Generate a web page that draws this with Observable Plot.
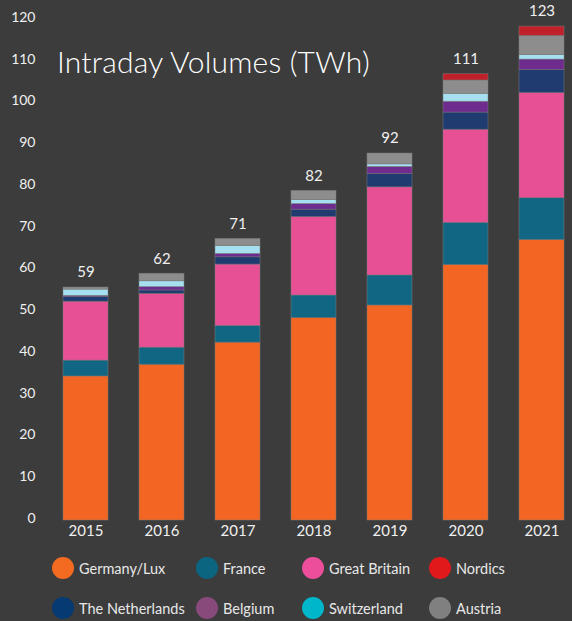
<!DOCTYPE html>
<html>
<head>
<meta charset="utf-8">
<script src="https://cdn.jsdelivr.net/npm/d3@7"></script>
<script src="https://cdn.jsdelivr.net/npm/@observablehq/plot@0.6"></script>
<style>
  html, body { margin: 0; padding: 0; background: #3c3c3c; }
  #wrap { position: relative; width: 572px; height: 621px; background: #3c3c3c; overflow: hidden; font-family: Lato, "Noto Sans", sans-serif; }
  #title { position: absolute; left: 57px; top: 43px; font-size: 30px; font-weight: 300; line-height: 36px; color: #ffffff; font-family: Lato, "Noto Sans", sans-serif; letter-spacing: 0.2px; }
  #legend { position: absolute; left: 0; top: 548px; width: 572px; height: 73px; }
  .li { position: absolute; display: flex; align-items: center; color: #e8e8e8; font-size: 14.5px; }
  .dot { width: 22px; height: 22px; border-radius: 50%; margin-right: 5px; }
</style>
</head>
<body>
<div id="wrap">
  <div id="chart"></div>
  <div id="title">Intraday Volumes (TWh)</div>
  <div id="legend"></div>
</div>
<script>
const years = ["2015", "2016", "2017", "2018", "2019", "2020", "2021"];
const germanyLux    = [34.5, 37.3, 42.6, 48.5, 51.5, 61.2, 67.2];
const france        = [3.8, 4.1, 4.0, 5.4, 7.2, 10.1, 10.0];
const greatBritain  = [14.1, 12.9, 14.7, 18.8, 21.1, 22.3, 25.2];
const netherlands   = [1.1, 0.8, 1.75, 1.75, 3.2, 4.1, 5.5];
const belgium       = [0.3, 0.8, 0.8, 1.35, 1.7, 2.6, 2.5];
const switzerland   = [1.5, 1.4, 1.9, 0.95, 0.6, 1.9, 1.1];
const austria       = [0.5, 1.8, 1.7, 2.2, 2.6, 3.2, 4.6];
const nordics       = [0, 0, 0, 0, 0, 1.5, 2.2];
const totals        = [59, 62, 71, 82, 92, 111, 123];
const yTicks        = [0, 10, 20, 30, 40, 50, 60, 70, 80, 90, 100, 110, 120];

// stacking order (bottom to top)
const stackNames  = ["Germany/Lux", "France", "Great Britain", "The Netherlands", "Belgium", "Switzerland", "Austria", "Nordics"];
const stackValues = [germanyLux, france, greatBritain, netherlands, belgium, switzerland, austria, nordics];
const barColors   = ["#f26522", "#116783", "#e85096", "#1f3b70", "#6f2c8f", "#a6dff0", "#8d8d8d", "#c1202a"];

// legend order
const legendNames  = ["Germany/Lux", "France", "Great Britain", "Nordics", "The Netherlands", "Belgium", "Switzerland", "Austria"];
const legendColors = ["#f26b21", "#0b6480", "#ec4e9c", "#e2191b", "#063a73", "#884a7a", "#00b6cb", "#808080"];

const rows = [];
stackNames.forEach((name, i) => {
  years.forEach((yr, j) => rows.push({year: yr, country: name, value: stackValues[i][j]}));
});
const sums = years.map((yr, j) => d3.sum(stackValues, s => s[j]));
const totalRows = years.map((yr, j) => ({year: yr, top: sums[j], label: String(totals[j])}));

const chart = Plot.plot({
  width: 572,
  height: 548,
  marginLeft: 57,
  marginRight: 2,
  marginTop: 19,
  marginBottom: 28,
  style: {background: "#3c3c3c", color: "#f0f0f0", fontFamily: "Lato, 'Noto Sans', sans-serif"},
  x: {domain: years, paddingInner: 0.41, paddingOuter: 0.05, label: null},
  y: {domain: [0, 120], label: null},
  color: {domain: stackNames, range: barColors},
  marks: [
    Plot.barY(rows, {x: "year", y: "value", fill: "country", order: stackNames, stroke: "#7a7a7a", strokeWidth: 0.7, strokeOpacity: 0.7}),
    Plot.axisY({ticks: yTicks, tickSize: 0, tickPadding: 22, fontSize: 14, dy: -2, label: null, fill: "#f0f0f0"}),
    Plot.axisX({tickSize: 0, tickPadding: 5, fontSize: 15, label: null, fill: "#f0f0f0"}),
    Plot.text(totalRows, {x: "year", y: "top", text: "label", dy: -15, fontSize: 15, fill: "#f0f0f0"})
  ]
});
document.getElementById("chart").appendChild(chart);

// legend
const legend = document.getElementById("legend");
const colX = [52, 196, 302, 429];
const rowY = [9, 49];
legendNames.forEach((name, i) => {
  const el = document.createElement("div");
  el.className = "li";
  el.style.left = colX[i % 4] + "px";
  el.style.top = rowY[Math.floor(i / 4)] + "px";
  const dot = document.createElement("div");
  dot.className = "dot";
  dot.style.background = legendColors[i];
  const t = document.createElement("span");
  t.textContent = name;
  el.appendChild(dot);
  el.appendChild(t);
  legend.appendChild(el);
});
</script>
</body>
</html>
